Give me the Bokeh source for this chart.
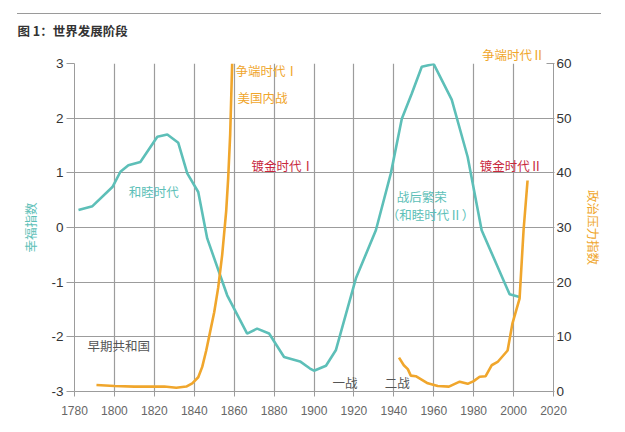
from bokeh.plotting import figure
from bokeh.models import Range1d, LinearAxis, FixedTicker, Label, Title, Div
from bokeh.layouts import column
from bokeh.embed import file_html
from bokeh.resources import INLINE

# ---------------- data ----------------
happy_years = [1782, 1789, 1799, 1803, 1807, 1813, 1821.5, 1826.5, 1832, 1836.5, 1842,
               1846.5, 1856.5, 1866.5, 1871.5, 1877.5, 1885, 1893, 1898, 1900, 1906,
               1911, 1921, 1931, 1938.5, 1944, 1949, 1954, 1960, 1969, 1977, 1984,
               1998, 2003]
happy_vals = [0.32, 0.39, 0.74, 1.02, 1.14, 1.20, 1.66, 1.70, 1.55, 0.99, 0.65,
              -0.20, -1.24, -1.94, -1.85, -1.94, -2.37, -2.45, -2.58, -2.62, -2.53,
              -2.24, -0.93, -0.05, 0.99, 1.99, 2.45, 2.94, 2.99, 2.34, 1.29, -0.05,
              -1.22, -1.27]

pressure1_years = [1791, 1800, 1810, 1820, 1825, 1831, 1836, 1839, 1842, 1844, 1846,
                   1848, 1850, 1852, 1854, 1856, 1857, 1858, 1859]
pressure1_vals = [1.2, 1.0, 0.9, 0.9, 0.9, 0.7, 0.9, 1.5, 2.6, 4.5, 7.5,
                  11.0, 14.5, 19.0, 25.0, 33.0, 39.0, 47.0, 60.0]

pressure2_years = [1942.6, 1945, 1947, 1948.5, 1951, 1957, 1962, 1967.6, 1973, 1977,
                   1980, 1983, 1986, 1989, 1992, 1997, 1999.4, 2003, 2005, 2007]
pressure2_vals = [6.2, 4.8, 4.1, 2.9, 2.8, 1.5, 1.0, 0.9, 1.8, 1.4,
                  1.9, 2.7, 2.8, 4.8, 5.4, 7.5, 12.4, 17.0, 29.5, 38.6]

x_ticks = [1780, 1800, 1820, 1840, 1860, 1880, 1900, 1920, 1940, 1960, 1980, 2000, 2020]
left_ticks = [-3, -2, -1, 0, 1, 2, 3]
right_ticks = [0, 10, 20, 30, 40, 50, 60]

title_text = "图 1：世界发展阶段"
left_title = "幸福指数"
right_title = "政治压力指数"
top_right_note = "争端时代Ⅱ"

TEAL = "#5dbfb8"
ORANGE = "#f0a62c"
RED = "#c8283c"
GRAY = "#555555"
annotations = [
    ("争端时代Ⅰ", 1860.7, 2.88, ORANGE),
    ("美国内战", 1861.7, 2.37, ORANGE),
    ("镀金时代Ⅰ", 1868.7, 1.14, RED),
    ("和睦时代", 1807.2, 0.65, TEAL),
    ("早期共和国", 1786.5, -2.15, GRAY),
    ("一战", 1909.3, -2.83, GRAY),
    ("二战", 1935.4, -2.83, GRAY),
    ("战后繁荣", 1941.4, 0.57, TEAL),
    ("（和睦时代Ⅱ）", 1936.5, 0.23, TEAL),
    ("镀金时代Ⅱ", 1983.0, 1.14, RED),
]

NUMFONT = "Liberation Sans"
CJK = "Noto Sans CJK SC"
GRID = "#9c9c9c"

# ---------------- header rule ----------------
W = 625
RULE_BLOCK = 15
rule = Div(text="", width=584, height=2, margin=(13, 24, 0, 17),
           styles={"border-top": "1.5px solid #9a9a9a"})

# ---------------- main chart ----------------
H = 432 - RULE_BLOCK
BL, BR, BT, BB = 74, 72, 63 - RULE_BLOCK, 41
X0, X1, Y0, Y1 = 1780, 2020, -3, 3

p = figure(width=W, height=H, output_backend="svg", toolbar_location=None,
           x_range=Range1d(X0, X1), y_range=Range1d(Y0, Y1),
           min_border_left=BL, min_border_right=BR, min_border_top=BT,
           min_border_bottom=BB)
p.outline_line_color = None
p.extra_y_ranges = {"pressure": Range1d(0, 60)}

# outer title row: figure title
p.title.text = title_text
p.title.align = "left"
p.title.offset = -57
p.title.standoff = 6
p.title.text_font = CJK
p.title.text_font_size = "12.5px"
p.title.text_font_style = "bold"
p.title.text_color = "#333333"

# inner title row: the note just above the frame's top right corner
p.add_layout(Title(text=top_right_note, align="right", offset=9, standoff=0,
                   text_font=CJK, text_font_size="12.5px", text_font_style="normal",
                   text_color=ORANGE), "above")

xa = p.xaxis[0]
xa.ticker = FixedTicker(ticks=x_ticks)
xa.axis_line_color = GRID
xa.major_tick_line_color = GRID
xa.major_tick_out = 5
xa.major_tick_in = 0
xa.minor_tick_line_color = None
xa.major_label_text_font = NUMFONT
xa.major_label_text_font_size = "12px"
xa.major_label_text_color = "#666666"
xa.major_label_standoff = 9

ya = p.yaxis[0]
ya.ticker = FixedTicker(ticks=left_ticks)
ya.major_label_overrides = {t: str(t) for t in left_ticks}
ya.axis_line_color = GRID
ya.major_tick_line_color = GRID
ya.major_tick_out = 8
ya.major_tick_in = 0
ya.minor_tick_line_color = None
ya.major_label_text_font = NUMFONT
ya.major_label_text_font_size = "13.5px"
ya.major_label_text_color = "#333333"
ya.major_label_standoff = 3
ya.axis_label = left_title
ya.axis_label_text_font = CJK
ya.axis_label_text_font_size = "12.5px"
ya.axis_label_text_font_style = "normal"
ya.axis_label_text_color = TEAL
ya.axis_label_standoff = 8

ra = LinearAxis(y_range_name="pressure", ticker=FixedTicker(ticks=right_ticks))
ra.axis_line_color = GRID
ra.major_tick_line_color = GRID
ra.major_tick_out = 1
ra.major_tick_in = 7
ra.minor_tick_line_color = None
ra.major_label_text_font = NUMFONT
ra.major_label_text_font_size = "13.5px"
ra.major_label_text_color = "#333333"
ra.major_label_standoff = 2
ra.axis_label = right_title
ra.axis_label_text_font = CJK
ra.axis_label_text_font_size = "12.5px"
ra.axis_label_text_font_style = "normal"
ra.axis_label_text_color = ORANGE
ra.axis_label_standoff = 9
p.add_layout(ra, "right")

p.xgrid.ticker = FixedTicker(ticks=x_ticks)
p.ygrid.ticker = FixedTicker(ticks=left_ticks)
for g in (p.xgrid[0], p.ygrid[0]):
    g.grid_line_color = GRID
    g.grid_line_width = 1.2

p.line(happy_years, happy_vals, line_color=TEAL, line_width=2.6)
p.line(pressure1_years, pressure1_vals, y_range_name="pressure",
       line_color=ORANGE, line_width=2.6)
p.line(pressure2_years, pressure2_vals, y_range_name="pressure",
       line_color=ORANGE, line_width=2.6)

for txt, yr, v, col in annotations:
    p.add_layout(Label(x=yr, y=v, text=txt, text_font=CJK, text_font_size="12.5px",
                       text_color=col, text_baseline="middle", text_align="left"))

layout = column(rule, p, spacing=0)
open("out.html", "w").write(file_html(layout, INLINE))
